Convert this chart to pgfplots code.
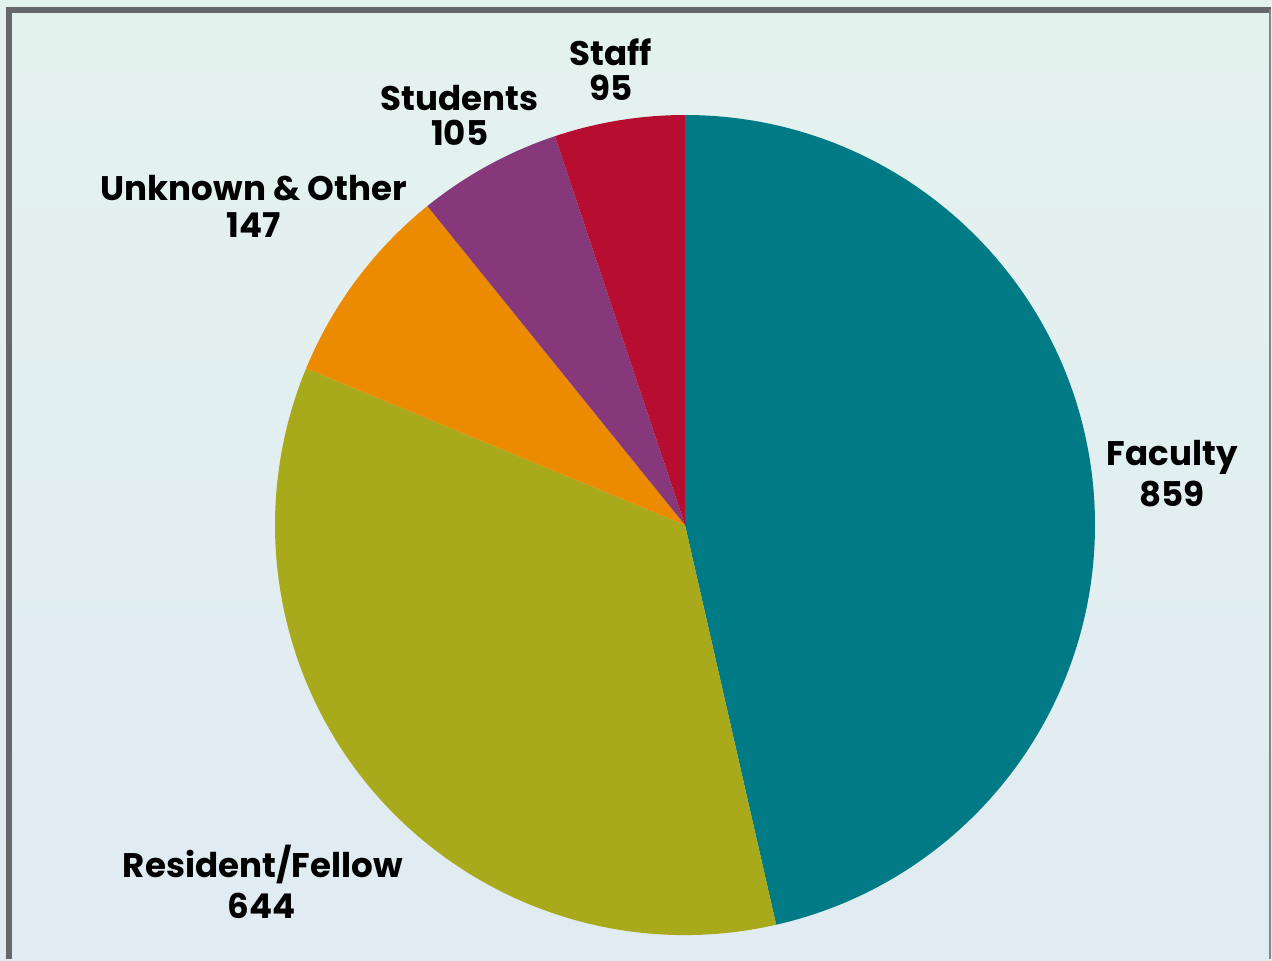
\documentclass[border=0pt]{standalone}
\usepackage{fontspec}
\setmainfont{Poppins}
\usepackage{pgfplots}
\pgfplotsset{compat=1.18}
\definecolor{cFac}{HTML}{007A85}
\definecolor{cRes}{HTML}{A8A91B}
\definecolor{cUnk}{HTML}{EC8B00}
\definecolor{cStu}{HTML}{86387A}
\definecolor{cSta}{HTML}{B70D30}
\definecolor{bgTop}{HTML}{E4F2EE}
\definecolor{bgBot}{HTML}{E0EBF2}
\definecolor{frm}{HTML}{65676B}
\begin{document}
\begin{tikzpicture}
\path[use as bounding box] (0,0) rectangle (12.72cm,9.6cm);
\shade[top color=bgTop,bottom color=bgBot] (0,0) rectangle (12.72cm,9.6cm);
% data
\def\vFac{859}\def\vRes{644}\def\vUnk{147}\def\vStu{105}\def\vSta{95}
\pgfmathsetmacro\tot{\vFac+\vRes+\vUnk+\vStu+\vSta}
\pgfmathsetmacro\aFac{90-360*(\vFac/\tot)}
\pgfmathsetmacro\aRes{\aFac-360*(\vRes/\tot)}
\pgfmathsetmacro\aUnk{\aRes-360*(\vUnk/\tot)}
\pgfmathsetmacro\aStu{\aUnk-360*(\vStu/\tot)}
\pgfmathsetmacro\aSta{\aStu-360*(\vSta/\tot)}
\def\R{4.1cm}
\begin{axis}[at={(6.85cm,4.35cm)}, anchor=center, width=8.2cm, height=8.2cm,
  scale only axis, xmin=-1, xmax=1, ymin=-1, ymax=1, hide axis, clip=false]
\addplot[draw=none] coordinates {(0,0)};
\fill[cFac] (axis cs:0,0) -- ++(90:\R) arc[start angle=90, end angle=\aFac, radius=\R] -- cycle;
\fill[cRes] (axis cs:0,0) -- ++(\aFac:\R) arc[start angle=\aFac, end angle=\aRes, radius=\R] -- cycle;
\fill[cUnk] (axis cs:0,0) -- ++(\aRes:\R) arc[start angle=\aRes, end angle=\aUnk, radius=\R] -- cycle;
\fill[cStu] (axis cs:0,0) -- ++(\aUnk:\R) arc[start angle=\aUnk, end angle=\aStu, radius=\R] -- cycle;
\fill[cSta] (axis cs:0,0) -- ++(\aStu:\R) arc[start angle=\aStu, end angle=\aSta, radius=\R] -- cycle;
\end{axis}
\begin{scope}[shift={(0,9.6cm)}, x=0.01cm, y=-0.01cm]
\draw[frm, line width=0.06cm] (9,960) -- (9,10) -- (1272,10);
\draw[frm!80, line width=0.02cm] (1271,10) -- (1271,960);
\tikzset{lab/.style={anchor=base, inner sep=0pt, text=black, font=\bfseries\fontsize{9.7}{12}\selectfont}}
\node[lab] at (611,66) {Staff};
\node[lab] at (611,101) {95};
\node[lab] at (460,111) {Students};
\node[lab] at (460,146) {105};
\node[lab] at (254,201) {Unknown \& Other};
\node[lab] at (254,238) {147};
\node[lab] at (1173,466) {Faculty};
\node[lab] at (1173,507) {859};
\node[lab] at (263,878) {Resident/Fellow};
\node[lab] at (262,919) {644};
\end{scope}
\end{tikzpicture}
\end{document}
